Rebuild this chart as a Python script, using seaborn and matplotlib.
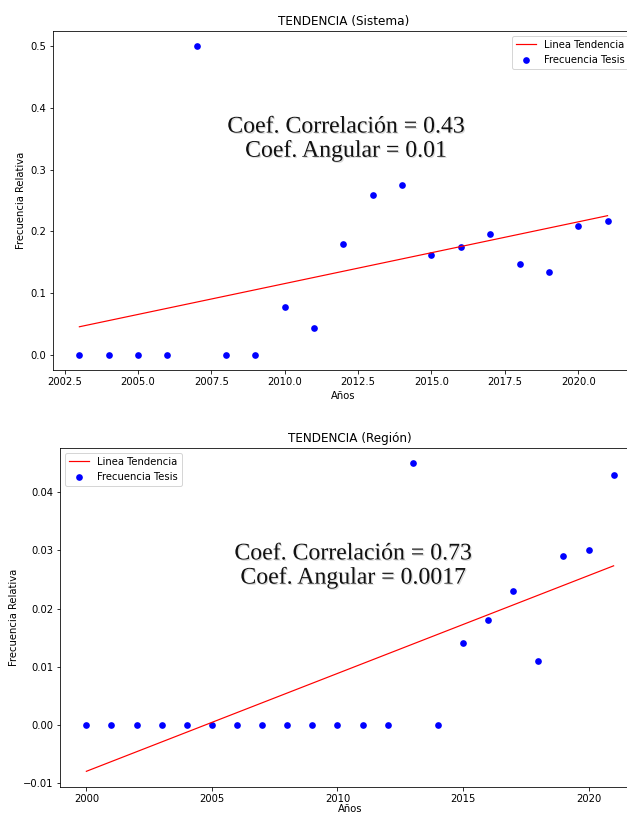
import seaborn as sns, matplotlib.pyplot as plt
import matplotlib.patheffects as pe

# datos
anios_sistema = [2003, 2004, 2005, 2006, 2007, 2008, 2009, 2010, 2011, 2012,
                 2013, 2014, 2015, 2016, 2017, 2018, 2019, 2020, 2021]
frec_sistema = [0, 0, 0, 0, 0.5, 0, 0, 0.077, 0.043, 0.179,
                0.259, 0.275, 0.161, 0.174, 0.196, 0.147, 0.134, 0.209, 0.216]

anios_region = [2000, 2001, 2002, 2003, 2004, 2005, 2006, 2007, 2008, 2009, 2010,
                2011, 2012, 2013, 2014, 2015, 2016, 2017, 2018, 2019, 2020, 2021]
frec_region = [0, 0, 0, 0, 0, 0, 0, 0, 0, 0, 0,
               0, 0, 0.045, 0, 0.014, 0.018, 0.023, 0.011, 0.029, 0.030, 0.043]

titulos = ["TENDENCIA (Sistema)", "TENDENCIA (Región)"]
textos = ["Coef. Correlación = 0.43\nCoef. Angular = 0.01",
          "Coef. Correlación = 0.73\nCoef. Angular = 0.0017"]

fig = plt.figure(figsize=(627/72, 815/72), dpi=72)
ax1 = fig.add_axes([0.0845, 0.546, 0.9266, 0.416])
ax2 = fig.add_axes([0.0957, 0.0347, 0.925, 0.416])

paneles = [(ax1, anios_sistema, frec_sistema, "upper right", (0.504, 0.681), 4),
           (ax2, anios_region, frec_region, "upper left", (0.505, 0.651), 0)]

for i, (ax, x, y, loc, pos, lpad) in enumerate(paneles):
    sns.regplot(x=x, y=y, scatter=False, ci=None, color="red", label="Linea Tendencia",
                line_kws={"lw": 1.2}, ax=ax)
    sns.scatterplot(x=x, y=y, color="blue", s=45, linewidth=0,
                    label="Frecuencia Tesis", ax=ax)
    ax.set_title(titulos[i], fontsize=12)
    ax.set_xlabel("Años", fontsize=10, labelpad=lpad)
    ax.set_ylabel("Frecuencia Relativa", fontsize=10)
    ax.legend(loc=loc, fontsize=10)
    ax.text(pos[0], pos[1], textos[i], transform=ax.transAxes, ha="center", va="center",
            multialignment="center", fontsize=23.8, family="Liberation Serif", color="#111111",
            path_effects=[pe.SimplePatchShadow(offset=(1.2, -1.2), alpha=0.15), pe.Normal()])

fig.savefig("out.png", dpi=72)
